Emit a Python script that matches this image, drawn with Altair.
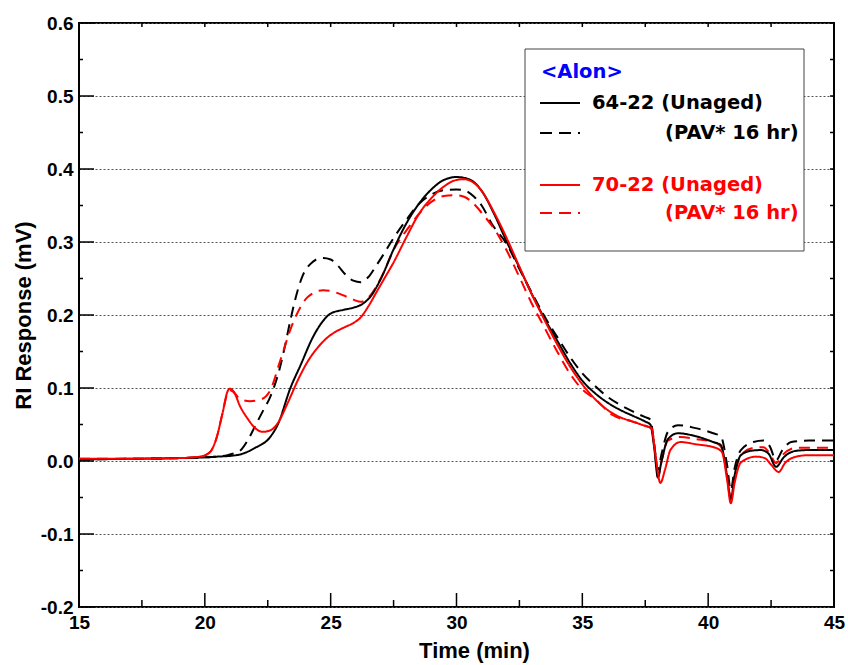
import altair as alt
import pandas as pd

# ---------------- data ----------------
bs_x = [15, 17, 19, 20, 20.5, 21, 21.4, 22, 22.6, 22.9, 23.4, 23.8, 24.3, 24.7, 25.0, 25.5, 25.9, 26.3, 26.6, 27.0,
        27.5, 28.0, 28.5, 29.0, 29.5, 30.0, 30.5, 31.0, 31.5, 32.0, 32.5, 33.0, 33.5, 34.0, 34.5, 35.0, 35.5, 36.0,
        36.5, 37.0, 37.5, 37.7, 37.85, 38.0, 38.15, 38.4, 38.8, 39.5, 40.2, 40.5, 40.75, 40.9, 41.05, 41.3, 41.7,
        42.1, 42.4, 42.7, 43.0, 43.5, 44.0, 45.0]
bs_y = [0.002, 0.003, 0.004, 0.005, 0.006, 0.007, 0.009, 0.018, 0.033, 0.05, 0.10, 0.131, 0.17, 0.192, 0.202,
        0.207, 0.210, 0.216, 0.226, 0.25, 0.29, 0.325, 0.352, 0.372, 0.385, 0.389, 0.386, 0.37, 0.338, 0.30,
        0.265, 0.228, 0.195, 0.165, 0.135, 0.11, 0.093, 0.08, 0.07, 0.062, 0.054, 0.05, 0.02, -0.022, 0.0,
        0.03, 0.038, 0.034, 0.026, 0.022, -0.02, -0.053, -0.02, 0.008, 0.014, 0.015, 0.01, -0.008, 0.005,
        0.014, 0.015, 0.015]

bd_x = [15, 17, 19, 20, 20.5, 20.9, 21.1, 21.4, 21.7, 22.0, 22.3, 22.6, 23.0, 23.2, 23.4, 23.7, 23.9, 24.2, 24.5,
        24.7, 25.0, 25.3, 25.6, 25.9, 26.2, 26.5, 26.8, 27.1, 27.4, 28.0, 28.5, 29.0, 29.5, 30.0, 30.3, 30.7,
        31.0, 31.4, 32.0, 32.5, 33.0, 33.5, 34.0, 34.5, 35.0, 35.5, 36.0, 36.5, 37.0, 37.5, 37.7, 37.85, 38.0,
        38.15, 38.4, 38.8, 39.5, 40.2, 40.5, 40.75, 40.9, 41.05, 41.3, 41.8, 42.2, 42.45, 42.7, 42.95, 43.3,
        44.0, 45.0]
bd_y = [0.002, 0.003, 0.004, 0.005, 0.006, 0.008, 0.01, 0.014, 0.028, 0.048, 0.068, 0.088, 0.13, 0.16, 0.193,
        0.235, 0.255, 0.27, 0.277, 0.278, 0.276, 0.267, 0.255, 0.247, 0.245, 0.252, 0.267, 0.283, 0.30, 0.33,
        0.352, 0.365, 0.371, 0.372, 0.371, 0.362, 0.35, 0.325, 0.297, 0.263, 0.23, 0.198, 0.17, 0.143, 0.12,
        0.103, 0.088, 0.077, 0.068, 0.06, 0.057, 0.025, -0.012, 0.01, 0.04, 0.049, 0.045, 0.038, 0.034,
        -0.005, -0.04, -0.01, 0.015, 0.026, 0.028, 0.02, 0.001, 0.015, 0.026, 0.028, 0.028]

rs_x = [15, 17, 19, 19.8, 20.2, 20.45, 20.7, 20.9, 21.0, 21.15, 21.4, 21.7, 22.0, 22.3, 22.6, 22.9, 23.3, 23.7,
        24.1, 24.5, 24.9, 25.3, 25.6, 25.9, 26.2, 26.5, 26.8, 27.1, 27.5, 28.0, 28.5, 29.0, 29.5, 30.0, 30.3,
        30.6, 31.0, 31.5, 32.0, 32.5, 33.0, 33.5, 34.0, 34.5, 35.0, 35.5, 36.0, 36.5, 37.0, 37.5, 37.75, 37.9,
        38.1, 38.3, 38.5, 38.9, 39.5, 40.3, 40.55, 40.75, 40.9, 41.05, 41.3, 41.9, 42.25, 42.5, 42.8, 43.05,
        43.5, 44.0, 45.0]
rs_y = [0.003, 0.003, 0.004, 0.006, 0.012, 0.03, 0.065, 0.095, 0.099, 0.095, 0.075, 0.058, 0.045, 0.04, 0.042,
        0.052, 0.08, 0.111, 0.137, 0.156, 0.17, 0.179, 0.184, 0.189, 0.197, 0.212, 0.23, 0.248, 0.272, 0.306,
        0.338, 0.36, 0.376, 0.385, 0.386, 0.383, 0.37, 0.34, 0.305, 0.266, 0.228, 0.193, 0.16, 0.13, 0.105,
        0.085, 0.07, 0.06, 0.054, 0.048, 0.045, 0.01, -0.03, -0.01, 0.015, 0.026, 0.023, 0.018, 0.012, -0.025,
        -0.058, -0.03, -0.002, 0.006, 0.004, -0.005, -0.015, -0.003, 0.006, 0.008, 0.008]

rd_x = [15, 17, 19, 19.8, 20.2, 20.45, 20.7, 20.9, 21.0, 21.15, 21.4, 21.8, 22.2, 22.6, 23.0, 23.5, 24.1, 24.7,
        25.1, 25.5, 25.9, 26.2, 26.5, 26.8, 27.1, 27.5, 28.1, 28.5, 29.0, 29.5, 30.0, 30.3, 30.7, 31.0, 31.7,
        32.0, 32.5, 33.0, 33.4, 34.0, 34.6, 35.0, 35.5, 36.2, 37.0, 37.6, 37.75, 37.88, 38.0, 38.15, 38.4,
        38.9, 39.5, 40.2, 40.5, 40.75, 40.9, 41.05, 41.3, 41.8, 42.2, 42.45, 42.7, 42.95, 43.5, 44.0, 45.0]
rd_y = [0.003, 0.003, 0.004, 0.006, 0.012, 0.03, 0.065, 0.093, 0.097, 0.094, 0.085, 0.082, 0.084, 0.097, 0.138,
        0.189, 0.225, 0.234, 0.232, 0.227, 0.221, 0.218, 0.224, 0.238, 0.258, 0.289, 0.32, 0.338, 0.355, 0.363,
        0.364, 0.362, 0.352, 0.34, 0.307, 0.288, 0.252, 0.215, 0.189, 0.15, 0.115, 0.098, 0.085, 0.063, 0.054,
        0.047, 0.044, 0.015, -0.023, 0.0, 0.028, 0.033, 0.03, 0.026, 0.02, -0.018, -0.051, -0.02, 0.008, 0.018,
        0.019, 0.01, -0.003, 0.008, 0.018, 0.018, 0.018]

series_names = ["64-22 PAV", "70-22 PAV", "64-22 Unaged", "70-22 Unaged"]
series_colors = ["#000000", "#ff0000", "#000000", "#ff0000"]
series_dash = [[11, 7], [11, 7], [1, 0], [1, 0]]

x_major = [15, 20, 25, 30, 35, 40, 45]
x_minor = [17.5, 22.5, 27.5, 32.5, 37.5, 42.5]
x_top = [17.5, 20, 22.5, 25, 27.5, 30, 32.5, 35, 37.5, 40, 42.5]
y_major = [-0.2, -0.1, 0.0, 0.1, 0.2, 0.3, 0.4, 0.5, 0.6]
y_minor = [-0.15, -0.05, 0.05, 0.15, 0.25, 0.35, 0.45, 0.55]

# ---------------- build table ----------------
frames = []
for name, xs_, ys_ in [("64-22 PAV", bd_x, bd_y), ("70-22 PAV", rd_x, rd_y),
                       ("64-22 Unaged", bs_x, bs_y), ("70-22 Unaged", rs_x, rs_y)]:
    frames.append(pd.DataFrame({"t": xs_, "v": ys_, "s": name}))
df = pd.concat(frames, ignore_index=True)

W, H = 755, 584
xs = alt.Scale(domain=[15, 45], nice=False, zero=False)
ys = alt.Scale(domain=[-0.2, 0.6], nice=False, zero=False)

X_ENC = alt.X("t:Q", scale=xs, title="Time (min)",
              axis=alt.Axis(values=x_major, grid=False, ticks=False, domain=False, labelPadding=6,
                            labelFlush=False, titlePadding=8, titleX=395))
Y_ENC = alt.Y("v:Q", scale=ys, title="RI Response (mV)",
              axis=alt.Axis(values=y_major, grid=True, gridDash=[2, 2], gridColor="#555555",
                            labelExpr="datum.value < -0.001 ? '-' + format(-datum.value, '.1f') : format(abs(datum.value), '.1f')",
                            gridWidth=1, ticks=False, domain=False, labelPadding=6, titlePadding=5))

lines = alt.Chart(df).mark_line(strokeWidth=2, interpolate="monotone", clip=True).encode(
    x=X_ENC, y=Y_ENC,
    color=alt.Color("s:N", scale=alt.Scale(domain=series_names, range=series_colors), legend=None),
    strokeDash=alt.StrokeDash("s:N", scale=alt.Scale(domain=series_names, range=series_dash), legend=None),
    detail="s:N",
)

def xticks(vals, y1, y2):
    return alt.Chart(pd.DataFrame({"t": vals})).mark_rule(color="black", strokeWidth=1.5).encode(
        x=X_ENC, y=alt.value(y1), y2=alt.value(y2))

def yticks(vals, x1, x2):
    return alt.Chart(pd.DataFrame({"v": vals})).mark_rule(color="black", strokeWidth=1.5).encode(
        y=Y_ENC, x=alt.value(x1), x2=alt.value(x2))

ticks = [
    xticks(x_major, H, H - 14),
    xticks(x_minor, H, H - 7),
    xticks(x_top, 0, 4),
    yticks(y_major, 0, 15),
    yticks(y_minor, 0, 4),
    yticks(y_major + y_minor, W, W - 4),
]

one = pd.DataFrame({"k": [0]})
box = alt.Chart(one).mark_rect(fill="white", stroke="#444444", strokeWidth=1).encode(
    x=alt.value(446), x2=alt.value(725), y=alt.value(26), y2=alt.value(228))

def ltext(txt, x, y, color):
    return alt.Chart(one).mark_text(text=txt, align="left", baseline="middle", font="DejaVu Sans",
                                    fontWeight="bold", fontSize=19.5, color=color).encode(
        x=alt.value(x), y=alt.value(y))

def lline(x1, x2, y, color, dash):
    return alt.Chart(one).mark_rule(color=color, strokeWidth=2, strokeDash=dash).encode(
        x=alt.value(x1), x2=alt.value(x2), y=alt.value(y))

legend = [
    box,
    ltext("<Alon>", 462, 49, "#0000ff"),
    lline(461, 501, 80, "black", [1, 0]),
    ltext("64-22 (Unaged)", 513, 80, "black"),
    lline(461, 501, 110, "black", [12, 7]),
    ltext("(PAV* 16 hr)", 586, 110, "black"),
    lline(461, 501, 162, "#ff0000", [1, 0]),
    ltext("70-22 (Unaged)", 513, 162, "#ff0000"),
    lline(461, 501, 190, "#ff0000", [12, 7]),
    ltext("(PAV* 16 hr)", 586, 190, "#ff0000"),
]

chart = alt.layer(lines, *ticks, *legend).properties(
    width=W, height=H,
    autosize=alt.AutoSizeParams(type="none"),
    padding={"left": 79, "top": 23, "right": 14, "bottom": 58},
    background="white",
).configure_view(stroke="black", strokeWidth=2).configure_axis(
    labelFont="Liberation Sans", labelFontWeight="bold", labelFontSize=19, labelColor="black",
    titleFont="Liberation Sans", titleFontWeight="bold", titleFontSize=22, titleColor="black",
)

chart.save("out.html", embed_options={"renderer": "svg", "actions": False})
